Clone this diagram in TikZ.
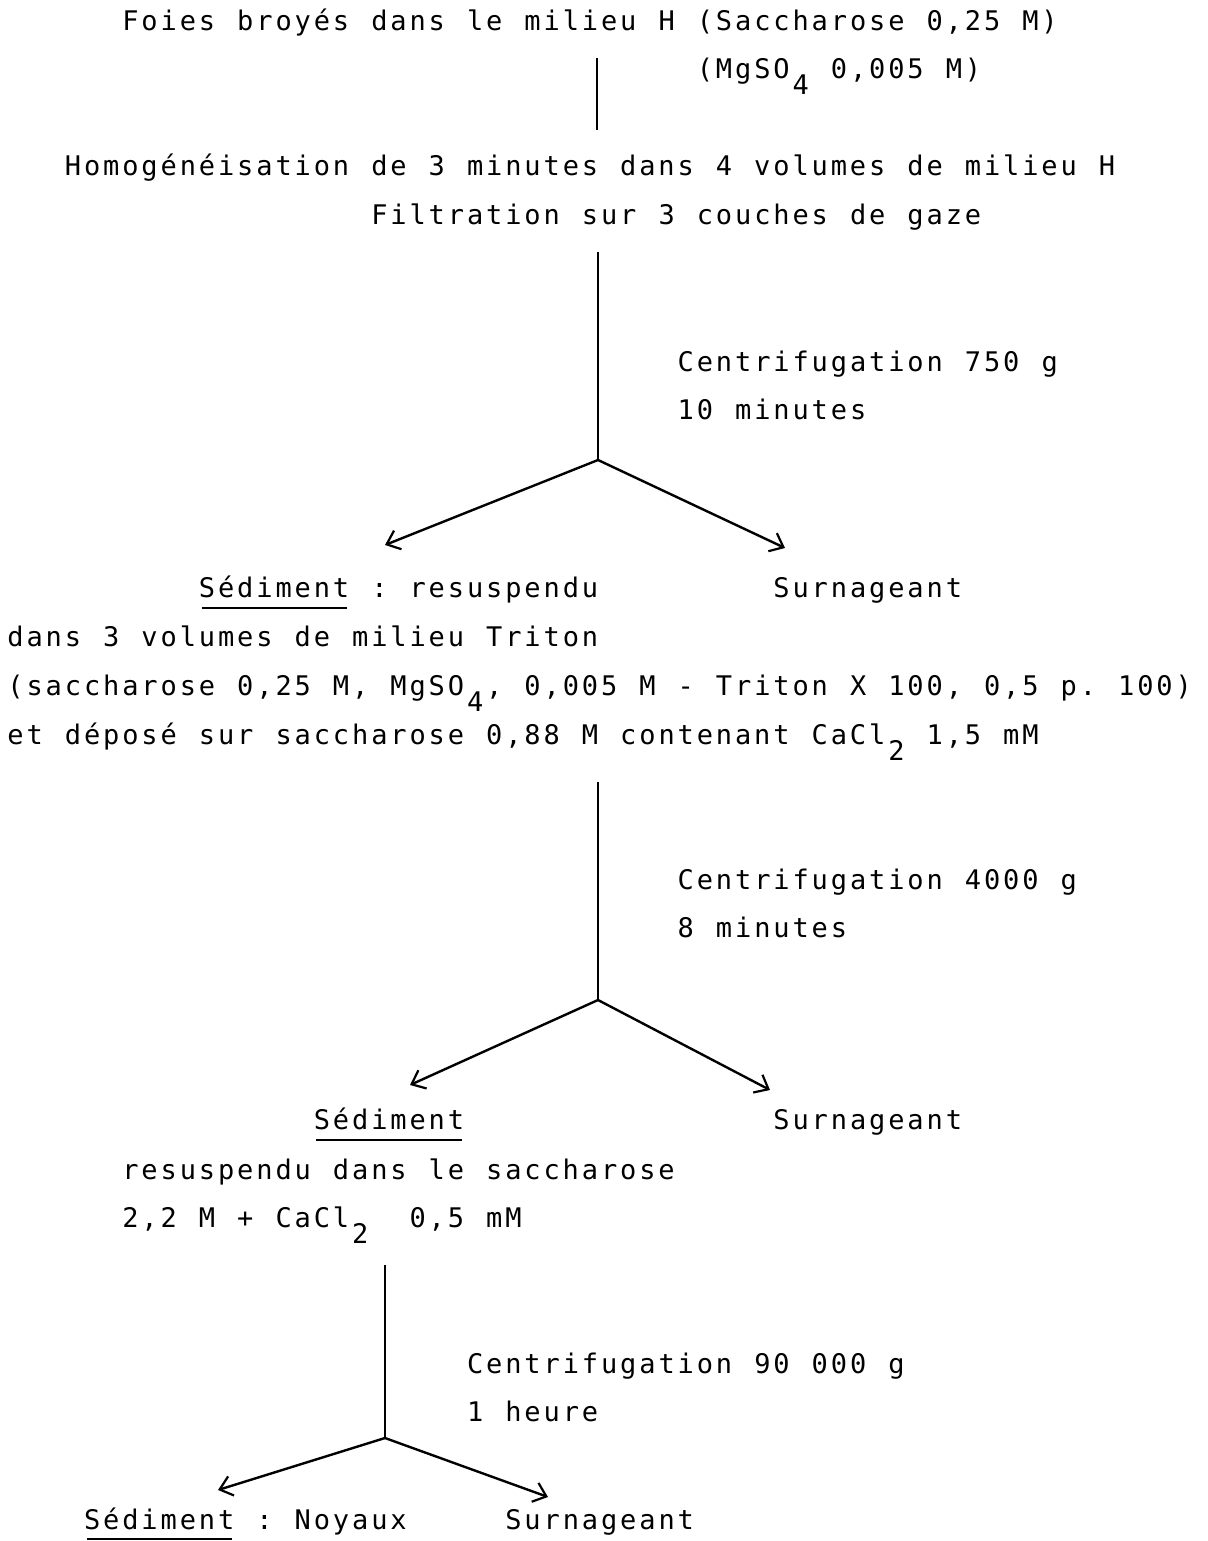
\documentclass[tikz,border=0pt]{standalone}
\usepackage{fontspec}
\newfontfamily\twfont{DejaVu Sans Mono}
\usetikzlibrary{arrows.meta}

% typewriter pitch: every character sits in a cell of fixed width
\newlength\twpitch
\setlength\twpitch{9.575pt}
\newcommand\twsp{}
\newcommand\twsub[1]{\raisebox{-8pt}{#1}}
\ExplSyntaxOn
\tl_new:N \l_tw_line_tl
\NewDocumentCommand \tw { m }
 {
  \tl_set:Nn \l_tw_line_tl {#1}
  \tl_replace_all:Nnn \l_tw_line_tl { ~ } { \twsp }
  \tl_map_inline:Nn \l_tw_line_tl { \makebox[\twpitch][c]{##1} }
 }
\ExplSyntaxOff

\tikzset{
  txt/.style={anchor=base west, inner sep=0pt, outer sep=0pt,
    font=\twfont\fontsize{13.5pt}{16pt}\selectfont},
  conn/.style={line width=1.2pt, black},
  arr/.style={conn, -{Straight Barb[length=6pt,width=10pt,line width=1.1pt]}},
  ul/.style={line width=0.9pt, black}
}

\begin{document}
\begin{tikzpicture}[x=0.5pt,y=-0.5pt]
\fill[white] (0,0) rectangle (1208,1541);
\useasboundingbox (0,0) rectangle (1208,1541);

% --- first step
\node[txt] (l1) at ({6+6*19.15},31) {\tw{Foies broyés dans le milieu H (Saccharose 0,25 M)}};
\node[txt] (l2) at ({6+36*19.15},79) {\tw{(MgSO{\twsub 4} 0,005 M)}};
\node[txt] (l3) at ({6+3*19.15},176) {\tw{Homogénéisation de 3 minutes dans 4 volumes de milieu H}};
\node[txt] (l4) at ({6+19*19.15},224) {\tw{Filtration sur 3 couches de gaze}};
\coordinate (v1a) at (597,58);
\coordinate (v1b) at (597,130);
\draw[conn] (v1a) -- (v1b);

% --- centrifugation 750 g
\node[txt] (c1a) at ({6+35*19.15},371) {\tw{Centrifugation 750 g}};
\node[txt] (c1b) at ({6+35*19.15},419) {\tw{10 minutes}};
\coordinate (v2a) at (598,252);
\coordinate (f1) at (598,460);
\coordinate (t1l) at (385,545);
\coordinate (t1r) at (785,548);
\draw[conn] (v2a) -- (f1);
\draw[arr] (f1) -- (t1l);
\draw[arr] (f1) -- (t1r);

\node[txt] (s1) at ({6+10*19.15},597) {\tw{Sédiment}};
\node[txt] (s1r) at ({6+19*19.15},597) {\tw{: resuspendu}};
\draw[ul] ([xshift=2pt,yshift=-5.5pt]s1.base west) -- ([xshift=-2pt,yshift=-5.5pt]s1.base east);
\node[txt] (n1) at ({6+40*19.15},597) {\tw{Surnageant}};
\node[txt] (d1) at (6,646) {\tw{dans 3 volumes de milieu Triton}};
\node[txt] (d2) at (6,695) {\tw{(saccharose 0,25 M, MgSO{\twsub 4}, 0,005 M - Triton X 100, 0,5 p. 100)}};
\node[txt] (d3) at (6,744) {\tw{et déposé sur saccharose 0,88 M contenant CaCl{\twsub 2} 1,5 mM}};

% --- centrifugation 4000 g
\node[txt] (c2a) at ({6+35*19.15},889) {\tw{Centrifugation 4000 g}};
\node[txt] (c2b) at ({6+35*19.15},937) {\tw{8 minutes}};
\coordinate (v3a) at (598,782);
\coordinate (f2) at (598,1000);
\coordinate (t2l) at (410,1085);
\coordinate (t2r) at (770,1090);
\draw[conn] (v3a) -- (f2);
\draw[arr] (f2) -- (t2l);
\draw[arr] (f2) -- (t2r);

\node[txt] (s2) at ({6+16*19.15},1129) {\tw{Sédiment}};
\draw[ul] ([xshift=2pt,yshift=-5.5pt]s2.base west) -- ([xshift=-2pt,yshift=-5.5pt]s2.base east);
\node[txt] (n2) at ({6+40*19.15},1129) {\tw{Surnageant}};
\node[txt] (r1) at ({6+6*19.15},1179) {\tw{resuspendu dans le saccharose}};
\node[txt] (r2) at ({6+6*19.15},1227) {\tw{2,2 M + CaCl{\twsub 2}\twsp\twsp 0,5 mM}};

% --- centrifugation 90 000 g
\node[txt] (c3a) at ({6+24*19.15},1373) {\tw{Centrifugation 90 000 g}};
\node[txt] (c3b) at ({6+24*19.15},1421) {\tw{1 heure}};
\coordinate (v4a) at (385,1265);
\coordinate (f3) at (385,1438);
\coordinate (t3l) at (218,1490);
\coordinate (t3r) at (548,1497);
\draw[conn] (v4a) -- (f3);
\draw[arr] (f3) -- (t3l);
\draw[arr] (f3) -- (t3r);

\node[txt] (s3) at ({6+4*19.15},1529) {\tw{Sédiment}};
\node[txt] (s3r) at ({6+13*19.15},1529) {\tw{: Noyaux}};
\draw[ul] ([xshift=2pt,yshift=-5pt]s3.base west) -- ([xshift=-2pt,yshift=-5pt]s3.base east);
\node[txt] (n3) at ({6+26*19.15},1529) {\tw{Surnageant}};
\end{tikzpicture}
\end{document}
